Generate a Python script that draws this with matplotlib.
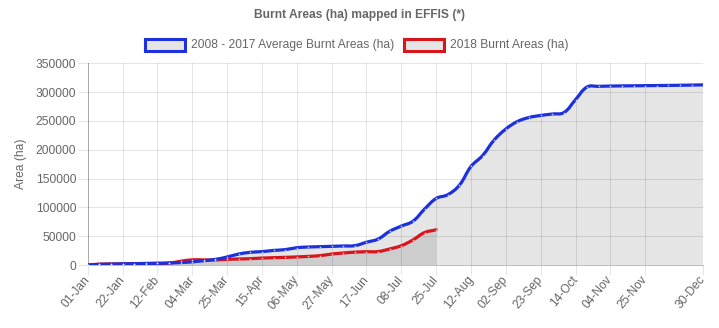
import matplotlib
matplotlib.use("Agg")
import matplotlib.pyplot as plt
import numpy as np
from matplotlib.path import Path
from matplotlib.patches import PathPatch, Rectangle

plt.rcParams["font.family"] = ["Liberation Sans", "DejaVu Sans"]

# weekly points, with the last 2018 update (25-Jul) slotted in
weeks = ["01-Jan", "08-Jan", "15-Jan", "22-Jan", "29-Jan", "05-Feb", "12-Feb", "19-Feb",
         "26-Feb", "04-Mar", "11-Mar", "18-Mar", "25-Mar", "01-Apr", "08-Apr", "15-Apr",
         "22-Apr", "29-Apr", "06-May", "13-May", "20-May", "27-May", "03-Jun", "10-Jun",
         "17-Jun", "24-Jun", "01-Jul", "08-Jul", "15-Jul", "22-Jul", "25-Jul", "29-Jul",
         "05-Aug", "12-Aug", "19-Aug", "26-Aug", "02-Sep", "09-Sep", "16-Sep", "23-Sep",
         "30-Sep", "07-Oct", "14-Oct", "21-Oct", "28-Oct", "04-Nov", "11-Nov", "18-Nov",
         "25-Nov", "02-Dec", "09-Dec", "16-Dec", "23-Dec", "30-Dec"]

avg_burnt = [0, 1000, 1500, 2000, 2300, 2700, 3000, 3500, 4200, 5500,
             7500, 9800, 13900, 19000, 22000, 23200, 25300, 26700, 30000, 31200,
             31800, 32400, 33000, 33600, 39500, 45000, 58500, 67500, 76000, 97000,
             115500, 122000, 138500, 171000, 190000, 217000, 236000, 249000, 256000, 259500,
             262000, 264500, 287000, 309000, 310000, 310500, 310800, 311000, 311200, 311400,
             311600, 311900, 312200, 312600]

burnt_2018 = [0, 1500, 1800, 2000, 2200, 2500, 2800, 3200, 6500, 9000,
              8800, 8800, 9800, 10400, 11000, 12000, 12700, 13300, 14000, 15000,
              16200, 19000, 20800, 22300, 23000, 23300, 27800, 33500, 43500, 56300,
              61000]

shown_ticks = list(range(0, 49, 3)) + [53]
y_ticks = list(range(0, 350001, 50000))

GREY = "#666666"
BLUE = "#1c30dc"
RED = "#d8141c"
FILL = (0, 0, 0, 0.1)
TICK = (0, 0, 0, 0.1)
ZERO = (0, 0, 0, 0.25)
W, H = 719, 328
FS = 8.64

fig = plt.figure(figsize=(W / 100, H / 100), dpi=100)
ax = fig.add_axes([87.7 / W, 1 - 265 / H, (703.3 - 87.7) / W, (265 - 63.3) / H])
ax.set_xlim(0, len(weeks) - 1)
ax.set_ylim(0, 350000)


def smooth_path(xs, ys, tension=0.4):
    # cubic bezier through the points, control points worked out in pixel space
    pts = ax.transData.transform(np.column_stack([xs, ys]))
    bb = ax.bbox
    n = len(pts)
    before = np.zeros_like(pts)
    after = np.zeros_like(pts)
    for i in range(n):
        cur = pts[i]
        prev = pts[i - 1] if i > 0 else cur
        nxt = pts[i + 1] if i < n - 1 else cur
        d01 = np.hypot(*(cur - prev))
        d12 = np.hypot(*(nxt - cur))
        tot = d01 + d12
        s01 = d01 / tot if tot else 0
        s12 = d12 / tot if tot else 0
        before[i] = cur - tension * s01 * (nxt - prev)
        after[i] = cur + tension * s12 * (nxt - prev)
    before[:, 1] = np.clip(before[:, 1], bb.y0, bb.y1)
    after[:, 1] = np.clip(after[:, 1], bb.y0, bb.y1)
    verts = [pts[0]]
    codes = [Path.MOVETO]
    for i in range(1, n):
        verts += [after[i - 1], before[i], pts[i]]
        codes += [Path.CURVE4] * 3
    verts = ax.transData.inverted().transform(np.array(verts))
    return verts, codes


series = [(burnt_2018, RED), (avg_burnt, BLUE)]
curves = []
for values, color in series:
    xs = np.arange(len(values))
    verts, codes = smooth_path(xs, values)
    curves.append((xs, values, verts, codes, color))
    fill_verts = np.vstack([verts, [[xs[-1], 0], [xs[0], 0], verts[0]]])
    fill_codes = codes + [Path.LINETO, Path.LINETO, Path.CLOSEPOLY]
    ax.add_patch(PathPatch(Path(fill_verts, fill_codes), facecolor=FILL,
                           edgecolor="none", zorder=1))

for xs, values, verts, codes, color in curves:
    ax.add_patch(PathPatch(Path(verts, codes), facecolor="none", edgecolor=color,
                           lw=2.3, joinstyle="round", capstyle="round", zorder=3))
    ax.plot(xs, values, "o", ms=1.2, mfc=(1, 1, 1, 0.75), mec="none", zorder=4)

# axes, grid and ticks
ax.set_xticks(shown_ticks)
ax.set_xticklabels([weeks[i] for i in shown_ticks], rotation=50, ha="right",
                   va="center", rotation_mode="anchor")
ax.set_yticks(y_ticks)
ax.set_yticklabels([str(v) for v in y_ticks])
for side in ("top", "right"):
    ax.spines[side].set_visible(False)
for side in ("left", "bottom"):
    ax.spines[side].set_color(ZERO)
    ax.spines[side].set_linewidth(0.72)
ax.tick_params(axis="both", length=7.2, width=0.72, color=TICK, labelsize=FS,
               labelcolor=GREY, grid_color="black", grid_alpha=0.1,
               grid_linewidth=0.72)
ax.tick_params(axis="y", pad=1)
ax.tick_params(axis="x", pad=2)
ax.set_axisbelow(True)
ax.grid(True)

fig.text(21 / W, 0.5, "Area (ha)", rotation=90, ha="center", va="center",
         fontsize=FS, color=GREY)

fig.text(0.5, 1 - 15 / H, "Burnt Areas (ha) mapped in EFFIS (*)", ha="center",
         va="center", fontsize=FS, fontweight="bold", color=GREY)

# legend
legend_items = [("2008 - 2017 Average Burnt Areas (ha)", BLUE, 145),
                ("2018 Burnt Areas (ha)", RED, 404)]
ly = 45
for label, color, x0 in legend_items:
    fig.add_artist(Rectangle((x0 / W, 1 - (ly + 6) / H), 40 / W, 12 / H,
                             transform=fig.transFigure, facecolor=FILL,
                             edgecolor=color, lw=2.2))
    fig.text((x0 + 46) / W, 1 - ly / H, label, ha="left", va="center",
             fontsize=FS, color=GREY)

fig.savefig("out.png", dpi=100)
